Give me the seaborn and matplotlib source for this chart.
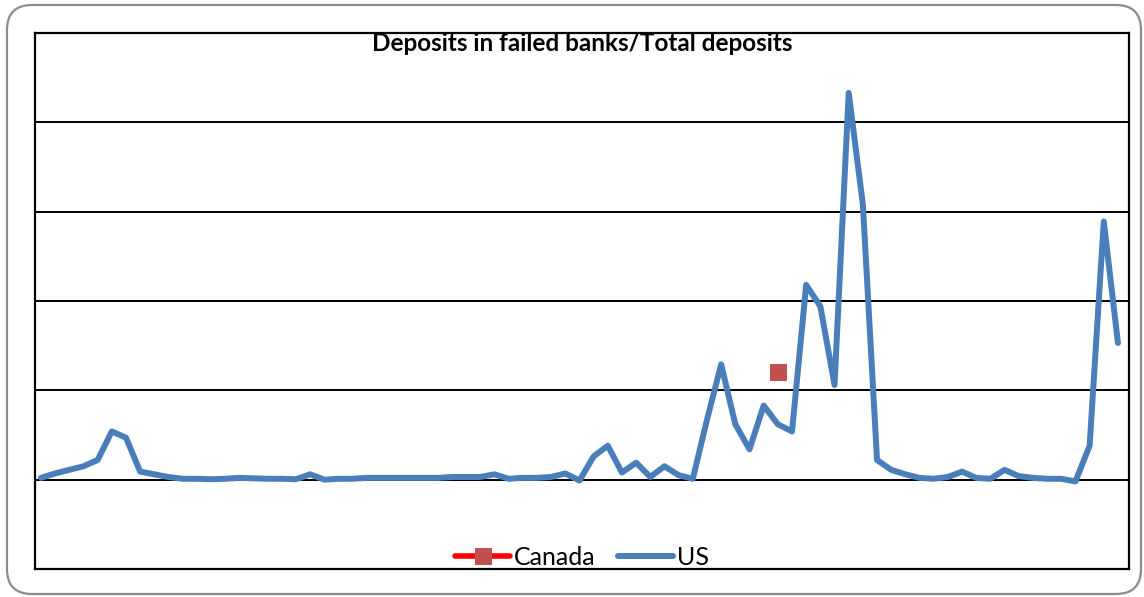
import numpy as np
import pandas as pd
import matplotlib
matplotlib.use("Agg")
import matplotlib.pyplot as plt
from matplotlib.patches import FancyBboxPatch
import seaborn as sns

# Share of deposits held in failed banks, one value per period (77 periods)
us_share = [
    0.02, 0.07, 0.11, 0.15, 0.22, 0.54, 0.47, 0.09, 0.06, 0.03,
    0.01, 0.01, 0.005, 0.01, 0.02, 0.015, 0.01, 0.01, 0.005, 0.06,
    0.0, 0.01, 0.01, 0.02, 0.02, 0.02, 0.02, 0.02, 0.02, 0.03,
    0.03, 0.03, 0.06, 0.01, 0.02, 0.02, 0.03, 0.07, -0.01, 0.26,
    0.38, 0.08, 0.19, 0.03, 0.15, 0.05, 0.01, 0.67, 1.29, 0.62,
    0.34, 0.83, 0.62, 0.54, 2.18, 1.94, 1.06, 4.33, 3.08, 0.22,
    0.11, 0.06, 0.02, 0.01, 0.03, 0.09, 0.02, 0.01, 0.11, 0.04,
    0.02, 0.01, 0.01, -0.02, 0.38, 2.89, 1.53,
]
canada_period = 52
canada_value = 1.2

periods = list(range(len(us_share)))
canada_share = [canada_value if p == canada_period else np.nan for p in periods]

df = pd.DataFrame({"period": periods, "US": us_share, "Canada": canada_share})

sns.set_style("white")
plt.rcParams["font.family"] = ["Lato", "DejaVu Sans"]
plt.rcParams["text.color"] = "black"

fig = plt.figure(figsize=(11.44, 5.97), dpi=100)
ax = fig.add_axes([35 / 1144, 1 - 569 / 597, (1129 - 35) / 1144, (569 - 33) / 597])

# rounded chart-area frame
frame = FancyBboxPatch((0.07, 0.03), 11.34, 5.89,
                       boxstyle="round,pad=0,rounding_size=0.25",
                       transform=fig.dpi_scale_trans, facecolor="none",
                       edgecolor="#8c8c8c", linewidth=1.6, zorder=0)
fig.patches.append(frame)

sns.lineplot(data=df, x="period", y="Canada", ax=ax, color="#FF0000",
             linewidth=4, marker="s", markersize=11,
             markerfacecolor="#C0504D", markeredgecolor="#C0504D",
             label="Canada", zorder=4)
sns.lineplot(data=df, x="period", y="US", ax=ax, color="#4A7EBB",
             linewidth=4.3, label="US", zorder=3,
             solid_joinstyle="round", solid_capstyle="round")

ax.set_xlim(-0.42, len(periods) - 0.22)
ax.set_ylim(-1, 5)
ax.set_yticks(np.arange(-1, 6, 1))
ax.set_xticks([])
ax.set_yticklabels([])
ax.tick_params(left=False, bottom=False)
ax.grid(axis="y", color="black", linewidth=1.4)
ax.set_axisbelow(True)
ax.set_xlabel("")
ax.set_ylabel("")
for sp in ax.spines.values():
    sp.set_visible(True)
    sp.set_color("black")
    sp.set_linewidth(1.6)

ax.text(0.5, 1.002, "Deposits in failed banks/Total deposits",
        transform=ax.transAxes, ha="center", va="top",
        fontsize=17.5, fontweight="bold", color="black")

leg = ax.legend(loc="lower center", bbox_to_anchor=(0.5, -0.042), ncol=2,
                frameon=False, fontsize=18, handlelength=2.2,
                columnspacing=0.9, handletextpad=0.15, labelcolor="black")

fig.savefig("out.png", dpi=100)
